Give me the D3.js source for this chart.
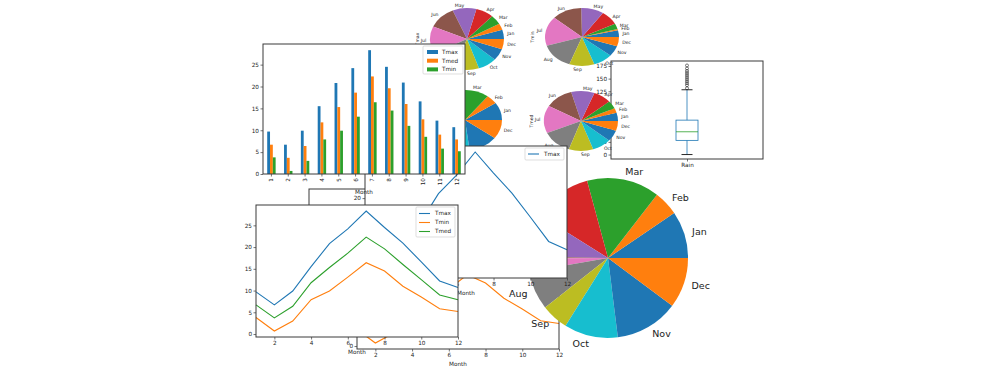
<!DOCTYPE html>
<html lang="en">
<head>
<meta charset="UTF-8">
<title>Weather charts</title>
<script src="https://d3js.org/d3.v7.min.js"></script>
<style>
  body { margin: 0; background: white; }
  svg { font-family: "DejaVu Sans", sans-serif; }
  .frame { fill: none; stroke: #3a3a3a; stroke-width: 1; }
  .legendbox { fill: white; stroke: #d0d0d0; stroke-width: 0.7; }
</style>
</head>
<body>
<script>
// monthly data
const months = [1, 2, 3, 4, 5, 6, 7, 8, 9, 10, 11, 12];
const monthNames = ["Jan", "Feb", "Mar", "Apr", "May", "Jun", "Jul", "Aug", "Sep", "Oct", "Nov", "Dec"];
const tmax = [9.7, 6.7, 9.9, 15.5, 20.8, 24.2, 28.3, 24.5, 20.9, 16.6, 12.2, 10.7];
const tmed = [6.7, 3.7, 6.4, 11.8, 15.3, 18.6, 22.3, 19.6, 16.0, 12.5, 9.0, 7.9];
const tmin = [3.8, 0.7, 3.0, 7.9, 9.9, 13.1, 16.4, 14.5, 11.0, 8.5, 5.8, 5.2];
const rain = [57, 30, 88, 71, 52, 2, 16, 47, 33, 65, 77, 61];

// rain box plot
const rainQuartiles = [28, 45, 68];
const rainWhiskers = [0, 128];
const rainOutliers = [131, 137, 141, 145, 149, 153, 157, 161, 165, 170, 176];

const palette = ["#1f77b4", "#ff7f0e", "#2ca02c", "#d62728", "#9467bd",
                 "#8c564b", "#e377c2", "#7f7f7f", "#bcbd22", "#17becf"];
const FS = 5.7;

const svg = d3.select("body").append("svg")
    .attr("width", 1005)
    .attr("height", 372);

function padded(lo, hi) {
    const m = (hi - lo) * 0.05;
    return [lo - m, hi + m];
}

function axesBg(g, b) {
    g.append("rect")
        .attr("x", b.x0).attr("y", b.y0)
        .attr("width", b.x1 - b.x0).attr("height", b.y1 - b.y0)
        .attr("fill", "white");
}

function axesFrame(g, b) {
    g.append("rect").attr("class", "frame")
        .attr("x", b.x0).attr("y", b.y0)
        .attr("width", b.x1 - b.x0).attr("height", b.y1 - b.y0);
}

function styleAxis(sel) {
    sel.attr("font-family", null).attr("font-size", FS);
    sel.select(".domain").remove();
    sel.selectAll("line").attr("stroke", "#3a3a3a").attr("stroke-width", 0.7);
    sel.selectAll("text").attr("fill", "#222");
}

function xLabel(g, b, y) {
    g.append("text")
        .attr("x", (b.x0 + b.x1) / 2).attr("y", y)
        .attr("text-anchor", "middle").attr("font-size", FS).attr("fill", "#222")
        .text("Month");
}

function legend(g, box, entries, patch) {
    g.append("rect").attr("class", "legendbox")
        .attr("x", box.x).attr("y", box.y).attr("width", box.w).attr("height", box.h).attr("rx", 1);
    entries.forEach((e, i) => {
        const y = box.y + box.first + i * box.step;
        if (patch) {
            g.append("rect").attr("x", box.x + 4).attr("y", y - 2)
                .attr("width", 11).attr("height", 4).attr("fill", e.color);
        } else {
            g.append("line").attr("x1", box.x + 3).attr("x2", box.x + 14)
                .attr("y1", y).attr("y2", y)
                .attr("stroke", e.color).attr("stroke-width", 1.1);
        }
        g.append("text").attr("x", box.x + 19).attr("y", y)
            .attr("dy", "0.35em").attr("font-size", FS).attr("fill", "#222")
            .text(e.name);
    });
}

function lineChart(b, series, yDomain, opts) {
    const g = svg.append("g");
    axesBg(g, b);
    const x = d3.scaleLinear().domain([1, 12]).range([b.x0, b.x1]);
    const y = d3.scaleLinear().domain(yDomain).range([b.y1, b.y0]);
    const line = d3.line().x((d, i) => x(months[i])).y(d => y(d));
    series.forEach(s => {
        g.append("path").datum(s.values)
            .attr("d", line).attr("fill", "none")
            .attr("stroke", s.color).attr("stroke-width", 1.1);
    });
    axesFrame(g, b);
    g.append("g").attr("transform", `translate(0,${b.y1})`)
        .call(d3.axisBottom(x).tickValues([2, 4, 6, 8, 10, 12]).tickSize(2.5).tickPadding(1.5))
        .call(styleAxis);
    g.append("g").attr("transform", `translate(${b.x0},0)`)
        .call(d3.axisLeft(y).ticks(5).tickSize(2.5).tickPadding(1.5))
        .call(styleAxis);
    xLabel(g, b, b.y1 + 17);
    if (opts.legend) legend(g, opts.legend, series, false);
    return g;
}

function pie(cx, cy, rx, ry, values, labelSize, ylabel) {
    const g = svg.append("g");
    const arcs = d3.pie().sort(null)
        .startAngle(Math.PI / 2)
        .endAngle(Math.PI / 2 - 2 * Math.PI)(values);
    const arc = d3.arc().innerRadius(0).outerRadius(1);
    g.append("g")
        .attr("transform", `translate(${cx},${cy}) scale(${rx},${ry})`)
        .selectAll("path").data(arcs).join("path")
        .attr("d", arc)
        .attr("fill", (d, i) => palette[i % 10]);
    g.selectAll("text.lab").data(arcs).join("text")
        .attr("class", "lab")
        .each(function (d, i) {
            const mid = (d.startAngle + d.endAngle) / 2;
            const ux = Math.sin(mid), uy = -Math.cos(mid);
            d3.select(this)
                .attr("x", cx + 1.1 * rx * ux)
                .attr("y", cy + 1.1 * ry * uy)
                .attr("dy", "0.35em")
                .attr("text-anchor", ux >= 0 ? "start" : "end")
                .text(monthNames[i]);
        })
        .attr("font-size", labelSize).attr("fill", "#222");
    if (ylabel) {
        g.append("text")
            .attr("transform", `translate(${cx - rx - 11},${cy}) rotate(-90)`)
            .attr("text-anchor", "middle").attr("font-size", labelSize).attr("fill", "#222")
            .text(ylabel);
    }
    return g;
}

// ---- rain box plot ----
(function () {
    const b = {x0: 611, x1: 763, y0: 61, y1: 159};
    const g = svg.append("g");
    axesBg(g, b);
    const x = d3.scalePoint().domain(["Rain"]).range([b.x0, b.x1]).padding(0.5);
    const y = d3.scaleLinear().domain(padded(0, d3.max(rainOutliers))).range([b.y1, b.y0]);
    const cx = x("Rain"), hw = 11;
    g.append("line").attr("x1", cx).attr("x2", cx)
        .attr("y1", y(rainQuartiles[2])).attr("y2", y(rainWhiskers[1]))
        .attr("stroke", palette[0]).attr("stroke-width", 0.8);
    g.append("line").attr("x1", cx).attr("x2", cx)
        .attr("y1", y(rainQuartiles[0])).attr("y2", y(rainWhiskers[0]))
        .attr("stroke", palette[0]).attr("stroke-width", 0.8);
    rainWhiskers.forEach(w => {
        g.append("line").attr("x1", cx - hw / 2).attr("x2", cx + hw / 2)
            .attr("y1", y(w)).attr("y2", y(w))
            .attr("stroke", "#111").attr("stroke-width", 0.9);
    });
    g.append("rect").attr("x", cx - hw).attr("width", 2 * hw)
        .attr("y", y(rainQuartiles[2])).attr("height", y(rainQuartiles[0]) - y(rainQuartiles[2]))
        .attr("fill", "none").attr("stroke", palette[0]).attr("stroke-width", 0.8);
    g.append("line").attr("x1", cx - hw).attr("x2", cx + hw)
        .attr("y1", y(rainQuartiles[1])).attr("y2", y(rainQuartiles[1]))
        .attr("stroke", palette[2]).attr("stroke-width", 0.8);
    g.selectAll("circle").data(rainOutliers).join("circle")
        .attr("cx", cx).attr("cy", d => y(d)).attr("r", 1.5)
        .attr("fill", "none").attr("stroke", "#222").attr("stroke-width", 0.6);
    axesFrame(g, b);
    g.append("g").attr("transform", `translate(0,${b.y1})`)
        .call(d3.axisBottom(x).tickSize(2.5).tickPadding(1.5)).call(styleAxis);
    g.append("g").attr("transform", `translate(${b.x0},0)`)
        .call(d3.axisLeft(y).tickValues(d3.range(0, 176, 25)).tickSize(2.5).tickPadding(1.5))
        .call(styleAxis);
})();

// ---- grid of small pies ----
pie(467, 39, 37, 31, tmax, 4.6, "Tmax");
pie(582, 37, 37, 29, tmin, 4.6, "Tmin");
pie(465, 120, 37, 30, rain, 4.6, "Rain");
pie(581, 121, 37, 30, tmed, 4.6, "Tmed");

// ---- hidden axes behind the line charts ----
(function () {
    const b = {x0: 309, x1: 555, y0: 189, y1: 300};
    const g = svg.append("g");
    axesBg(g, b);
    axesFrame(g, b);
})();

// ---- Tmin line chart ----
const tempDomain = padded(d3.min(tmin), d3.max(tmax));
lineChart({x0: 357, x1: 559, y0: 217, y1: 349},
    [{name: "Tmin", values: tmin, color: palette[1]}], tempDomain, {});

// ---- big rain pie ----
pie(608, 258, 80, 80, rain, 9.5, null);

// ---- Tmax line chart ----
lineChart({x0: 365, x1: 567, y0: 146, y1: 278},
    [{name: "Tmax", values: tmax, color: palette[0]}],
    padded(d3.min(tmax), d3.max(tmax)),
    {legend: {x: 525, y: 148, w: 39, h: 12, first: 6, step: 9}});

// ---- grouped bar chart ----
(function () {
    const b = {x0: 263, x1: 465, y0: 44, y1: 174};
    const series = [
        {name: "Tmax", values: tmax, color: palette[0]},
        {name: "Tmed", values: tmed, color: palette[1]},
        {name: "Tmin", values: tmin, color: palette[2]}
    ];
    const g = svg.append("g");
    axesBg(g, b);
    const x = d3.scaleBand().domain(months).range([b.x0, b.x1])
        .paddingInner(0.5).paddingOuter(0.25);
    const xs = d3.scaleBand().domain(series.map(s => s.name)).range([0, x.bandwidth()]);
    const y = d3.scaleLinear().domain([0, d3.max(tmax) * 1.05]).range([b.y1, b.y0]);
    series.forEach(s => {
        g.append("g").selectAll("rect").data(s.values).join("rect")
            .attr("x", (d, i) => x(months[i]) + xs(s.name))
            .attr("width", xs.bandwidth())
            .attr("y", d => y(d))
            .attr("height", d => y(0) - y(d))
            .attr("fill", s.color);
    });
    axesFrame(g, b);
    const xa = g.append("g").attr("transform", `translate(0,${b.y1})`)
        .call(d3.axisBottom(x).tickSize(2.5).tickPadding(1.5))
        .call(styleAxis);
    xa.selectAll("text")
        .attr("transform", "rotate(-90)")
        .attr("x", -4).attr("y", 0).attr("dy", "0.35em")
        .attr("text-anchor", "end");
    g.append("g").attr("transform", `translate(${b.x0},0)`)
        .call(d3.axisLeft(y).ticks(6).tickSize(2.5).tickPadding(1.5))
        .call(styleAxis);
    xLabel(g, b, b.y1 + 20);
    legend(g, {x: 423, y: 46, w: 40, h: 28, first: 6, step: 8.7}, series, true);
})();

// ---- three line chart ----
lineChart({x0: 256, x1: 458, y0: 205, y1: 337},
    [{name: "Tmax", values: tmax, color: palette[0]},
     {name: "Tmin", values: tmin, color: palette[1]},
     {name: "Tmed", values: tmed, color: palette[2]}],
    tempDomain,
    {legend: {x: 416, y: 207, w: 39, h: 30, first: 6.5, step: 9}});
</script>
</body>
</html>
